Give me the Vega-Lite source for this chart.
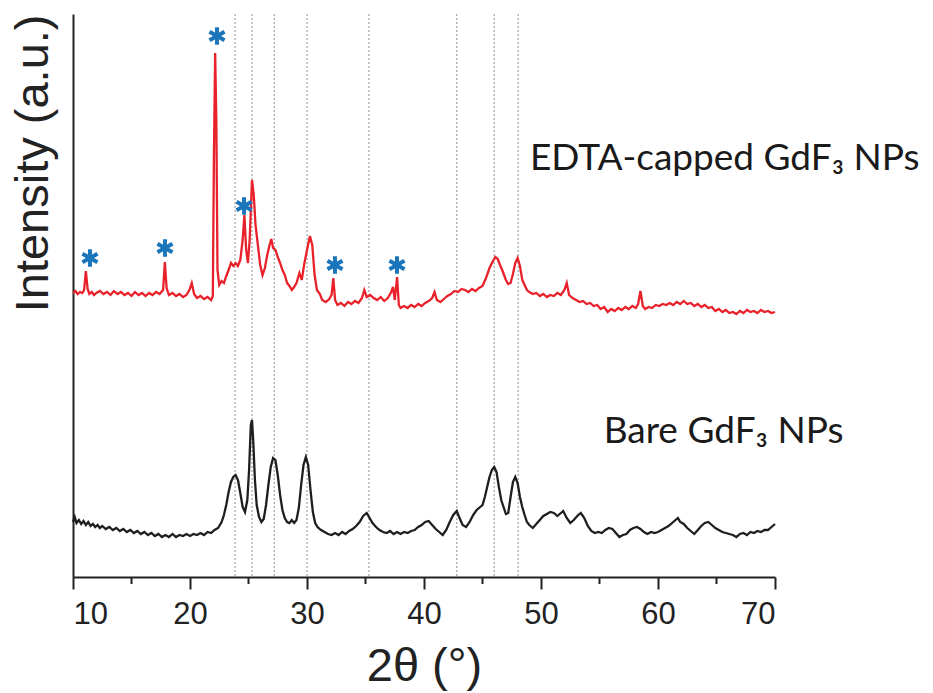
{
  "$schema": "https://vega.github.io/schema/vega-lite/v6.json",
  "width": 702,
  "height": 563,
  "autosize": "none",
  "padding": {"left": 73, "top": 14, "right": 158, "bottom": 116},
  "background": "white",
  "config": {"view": {"stroke": null}},
  "datasets": {
    "edta": [
      {"t":10.0,"i":284},{"t":10.2,"i":286},{"t":10.4,"i":283},{"t":10.6,"i":285},{"t":10.8,"i":284},{"t":10.95,"i":287},{"t":11.1,"i":306},{"t":11.25,"i":288},{"t":11.4,"i":283},{"t":11.6,"i":285},{"t":11.8,"i":282},{"t":12.0,"i":284},{"t":12.3,"i":286},{"t":12.6,"i":283},{"t":12.9,"i":285},{"t":13.2,"i":282},{"t":13.5,"i":286},{"t":13.8,"i":283},{"t":14.1,"i":285},{"t":14.4,"i":282},{"t":14.7,"i":284},{"t":15.0,"i":281},{"t":15.3,"i":285},{"t":15.6,"i":282},{"t":15.9,"i":284},{"t":16.2,"i":281},{"t":16.5,"i":284},{"t":16.8,"i":282},{"t":17.1,"i":285},{"t":17.4,"i":283},{"t":17.7,"i":287},{"t":17.85,"i":315},{"t":18.0,"i":289},{"t":18.2,"i":282},{"t":18.5,"i":284},{"t":18.8,"i":281},{"t":19.1,"i":283},{"t":19.4,"i":280},{"t":19.7,"i":282},{"t":19.95,"i":287},{"t":20.15,"i":294},{"t":20.35,"i":283},{"t":20.6,"i":279},{"t":20.9,"i":281},{"t":21.2,"i":278},{"t":21.5,"i":280},{"t":21.8,"i":277},{"t":21.95,"i":281},{"t":22.05,"i":427},{"t":22.15,"i":524},{"t":22.25,"i":457},{"t":22.35,"i":307},{"t":22.5,"i":292},{"t":22.7,"i":296},{"t":22.9,"i":294},{"t":23.1,"i":301},{"t":23.3,"i":307},{"t":23.5,"i":314},{"t":23.7,"i":311},{"t":23.9,"i":314},{"t":24.1,"i":311},{"t":24.3,"i":317},{"t":24.5,"i":337},{"t":24.65,"i":362},{"t":24.8,"i":327},{"t":24.95,"i":314},{"t":25.1,"i":337},{"t":25.3,"i":397},{"t":25.45,"i":382},{"t":25.6,"i":352},{"t":25.8,"i":332},{"t":26.0,"i":312},{"t":26.2,"i":302},{"t":26.4,"i":309},{"t":26.6,"i":322},{"t":26.8,"i":332},{"t":26.95,"i":338},{"t":27.1,"i":329},{"t":27.3,"i":327},{"t":27.5,"i":320},{"t":27.7,"i":314},{"t":27.9,"i":307},{"t":28.1,"i":302},{"t":28.3,"i":294},{"t":28.5,"i":291},{"t":28.7,"i":287},{"t":28.9,"i":290},{"t":29.1,"i":294},{"t":29.35,"i":304},{"t":29.55,"i":297},{"t":29.75,"i":312},{"t":30.0,"i":327},{"t":30.25,"i":341},{"t":30.45,"i":332},{"t":30.65,"i":302},{"t":30.85,"i":287},{"t":31.1,"i":283},{"t":31.3,"i":277},{"t":31.6,"i":275},{"t":31.9,"i":278},{"t":32.1,"i":282},{"t":32.25,"i":299},{"t":32.4,"i":277},{"t":32.6,"i":272},{"t":32.9,"i":274},{"t":33.2,"i":271},{"t":33.5,"i":275},{"t":33.8,"i":273},{"t":34.1,"i":276},{"t":34.4,"i":274},{"t":34.7,"i":279},{"t":34.9,"i":287},{"t":35.1,"i":280},{"t":35.4,"i":282},{"t":35.7,"i":279},{"t":36.0,"i":277},{"t":36.3,"i":280},{"t":36.6,"i":276},{"t":36.9,"i":279},{"t":37.2,"i":285},{"t":37.35,"i":290},{"t":37.5,"i":277},{"t":37.7,"i":300},{"t":37.85,"i":272},{"t":38.0,"i":269},{"t":38.3,"i":271},{"t":38.6,"i":269},{"t":38.9,"i":272},{"t":39.2,"i":270},{"t":39.5,"i":273},{"t":39.8,"i":271},{"t":40.1,"i":274},{"t":40.4,"i":276},{"t":40.7,"i":279},{"t":40.9,"i":285},{"t":41.1,"i":277},{"t":41.4,"i":275},{"t":41.7,"i":278},{"t":42.0,"i":281},{"t":42.3,"i":283},{"t":42.6,"i":286},{"t":42.9,"i":285},{"t":43.2,"i":288},{"t":43.5,"i":287},{"t":43.8,"i":285},{"t":44.1,"i":288},{"t":44.4,"i":286},{"t":44.7,"i":289},{"t":45.0,"i":291},{"t":45.3,"i":299},{"t":45.6,"i":309},{"t":45.85,"i":315},{"t":46.1,"i":320},{"t":46.3,"i":318},{"t":46.5,"i":312},{"t":46.75,"i":305},{"t":47.0,"i":297},{"t":47.2,"i":293},{"t":47.4,"i":294},{"t":47.6,"i":303},{"t":47.8,"i":314},{"t":48.0,"i":319},{"t":48.2,"i":311},{"t":48.4,"i":297},{"t":48.6,"i":292},{"t":48.8,"i":287},{"t":49.0,"i":285},{"t":49.3,"i":283},{"t":49.6,"i":284},{"t":49.9,"i":281},{"t":50.2,"i":283},{"t":50.5,"i":280},{"t":50.8,"i":282},{"t":51.1,"i":281},{"t":51.4,"i":284},{"t":51.7,"i":282},{"t":52.0,"i":287},{"t":52.2,"i":294},{"t":52.4,"i":282},{"t":52.7,"i":279},{"t":53.0,"i":277},{"t":53.3,"i":275},{"t":53.6,"i":276},{"t":53.9,"i":273},{"t":54.2,"i":274},{"t":54.5,"i":271},{"t":54.8,"i":272},{"t":55.1,"i":268},{"t":55.4,"i":270},{"t":55.7,"i":265},{"t":56.0,"i":268},{"t":56.3,"i":266},{"t":56.6,"i":269},{"t":56.9,"i":267},{"t":57.2,"i":270},{"t":57.5,"i":268},{"t":57.8,"i":271},{"t":58.1,"i":269},{"t":58.3,"i":273},{"t":58.5,"i":286},{"t":58.7,"i":271},{"t":58.9,"i":268},{"t":59.2,"i":270},{"t":59.5,"i":269},{"t":59.8,"i":272},{"t":60.1,"i":271},{"t":60.4,"i":273},{"t":60.7,"i":272},{"t":61.0,"i":274},{"t":61.3,"i":272},{"t":61.6,"i":275},{"t":61.9,"i":273},{"t":62.2,"i":276},{"t":62.5,"i":273},{"t":62.8,"i":274},{"t":63.1,"i":271},{"t":63.4,"i":273},{"t":63.7,"i":270},{"t":64.0,"i":272},{"t":64.3,"i":269},{"t":64.6,"i":270},{"t":64.9,"i":266},{"t":65.2,"i":268},{"t":65.5,"i":265},{"t":65.8,"i":267},{"t":66.1,"i":264},{"t":66.4,"i":265},{"t":66.7,"i":263},{"t":67.0,"i":266},{"t":67.3,"i":264},{"t":67.6,"i":267},{"t":67.9,"i":265},{"t":68.2,"i":266},{"t":68.5,"i":264},{"t":68.8,"i":267},{"t":69.1,"i":265},{"t":69.4,"i":266},{"t":69.7,"i":264},{"t":70.0,"i":265}
    ],
    "bare": [
      {"t":10.0,"i":55},{"t":10.15,"i":60},{"t":10.3,"i":54},{"t":10.5,"i":57},{"t":10.7,"i":53},{"t":10.9,"i":56},{"t":11.1,"i":52},{"t":11.3,"i":55},{"t":11.5,"i":51},{"t":11.7,"i":53},{"t":11.9,"i":50},{"t":12.1,"i":52},{"t":12.3,"i":49},{"t":12.5,"i":51},{"t":12.8,"i":48},{"t":13.1,"i":50},{"t":13.4,"i":47},{"t":13.7,"i":49},{"t":14.0,"i":46},{"t":14.3,"i":48},{"t":14.6,"i":45},{"t":14.9,"i":47},{"t":15.2,"i":44},{"t":15.5,"i":46},{"t":15.8,"i":43},{"t":16.1,"i":45},{"t":16.4,"i":42},{"t":16.7,"i":44},{"t":17.0,"i":41},{"t":17.3,"i":43},{"t":17.6,"i":40},{"t":17.9,"i":42},{"t":18.2,"i":40},{"t":18.5,"i":43},{"t":18.8,"i":40},{"t":19.1,"i":42},{"t":19.4,"i":41},{"t":19.7,"i":43},{"t":20.0,"i":41},{"t":20.3,"i":43},{"t":20.6,"i":42},{"t":20.9,"i":44},{"t":21.2,"i":42},{"t":21.5,"i":45},{"t":21.8,"i":44},{"t":22.1,"i":47},{"t":22.4,"i":49},{"t":22.7,"i":55},{"t":22.9,"i":62},{"t":23.1,"i":72},{"t":23.3,"i":85},{"t":23.5,"i":95},{"t":23.7,"i":100},{"t":23.9,"i":102},{"t":24.1,"i":97},{"t":24.3,"i":84},{"t":24.5,"i":70},{"t":24.7,"i":65},{"t":24.9,"i":77},{"t":25.05,"i":107},{"t":25.2,"i":152},{"t":25.3,"i":157},{"t":25.4,"i":137},{"t":25.55,"i":97},{"t":25.7,"i":72},{"t":25.9,"i":60},{"t":26.1,"i":55},{"t":26.3,"i":58},{"t":26.5,"i":72},{"t":26.7,"i":92},{"t":26.9,"i":110},{"t":27.1,"i":119},{"t":27.3,"i":117},{"t":27.5,"i":102},{"t":27.7,"i":82},{"t":27.9,"i":67},{"t":28.1,"i":59},{"t":28.3,"i":55},{"t":28.5,"i":54},{"t":28.7,"i":57},{"t":28.9,"i":54},{"t":29.1,"i":57},{"t":29.3,"i":69},{"t":29.5,"i":92},{"t":29.7,"i":112},{"t":29.9,"i":120},{"t":30.1,"i":112},{"t":30.3,"i":87},{"t":30.5,"i":65},{"t":30.7,"i":54},{"t":30.9,"i":50},{"t":31.2,"i":47},{"t":31.5,"i":45},{"t":31.8,"i":43},{"t":32.1,"i":42},{"t":32.4,"i":44},{"t":32.7,"i":42},{"t":33.0,"i":45},{"t":33.3,"i":43},{"t":33.6,"i":46},{"t":33.9,"i":48},{"t":34.2,"i":51},{"t":34.5,"i":55},{"t":34.8,"i":61},{"t":35.1,"i":64},{"t":35.3,"i":60},{"t":35.6,"i":54},{"t":35.9,"i":50},{"t":36.2,"i":47},{"t":36.5,"i":45},{"t":36.8,"i":44},{"t":37.1,"i":46},{"t":37.4,"i":43},{"t":37.7,"i":45},{"t":38.0,"i":43},{"t":38.3,"i":45},{"t":38.6,"i":44},{"t":38.9,"i":46},{"t":39.2,"i":47},{"t":39.5,"i":50},{"t":39.8,"i":52},{"t":40.1,"i":55},{"t":40.4,"i":56},{"t":40.7,"i":52},{"t":41.0,"i":48},{"t":41.3,"i":45},{"t":41.6,"i":42},{"t":41.9,"i":47},{"t":42.2,"i":55},{"t":42.5,"i":62},{"t":42.8,"i":66},{"t":43.0,"i":60},{"t":43.3,"i":52},{"t":43.6,"i":50},{"t":43.9,"i":55},{"t":44.2,"i":62},{"t":44.5,"i":67},{"t":44.8,"i":70},{"t":45.0,"i":72},{"t":45.2,"i":80},{"t":45.4,"i":90},{"t":45.6,"i":100},{"t":45.8,"i":107},{"t":46.0,"i":110},{"t":46.2,"i":105},{"t":46.4,"i":90},{"t":46.6,"i":77},{"t":46.8,"i":70},{"t":47.0,"i":63},{"t":47.2,"i":64},{"t":47.4,"i":80},{"t":47.6,"i":95},{"t":47.8,"i":100},{"t":48.0,"i":94},{"t":48.2,"i":80},{"t":48.4,"i":70},{"t":48.6,"i":62},{"t":48.8,"i":55},{"t":49.0,"i":52},{"t":49.3,"i":49},{"t":49.6,"i":53},{"t":49.9,"i":57},{"t":50.2,"i":61},{"t":50.5,"i":63},{"t":50.8,"i":65},{"t":51.1,"i":64},{"t":51.4,"i":61},{"t":51.7,"i":64},{"t":51.9,"i":66},{"t":52.2,"i":59},{"t":52.5,"i":54},{"t":52.8,"i":57},{"t":53.1,"i":61},{"t":53.4,"i":64},{"t":53.7,"i":59},{"t":54.0,"i":51},{"t":54.3,"i":46},{"t":54.6,"i":44},{"t":54.9,"i":45},{"t":55.2,"i":44},{"t":55.5,"i":47},{"t":55.8,"i":49},{"t":56.1,"i":48},{"t":56.4,"i":44},{"t":56.7,"i":40},{"t":57.0,"i":42},{"t":57.3,"i":43},{"t":57.6,"i":47},{"t":57.9,"i":49},{"t":58.2,"i":50},{"t":58.5,"i":48},{"t":58.8,"i":45},{"t":59.1,"i":43},{"t":59.4,"i":45},{"t":59.7,"i":44},{"t":60.0,"i":45},{"t":60.3,"i":47},{"t":60.6,"i":49},{"t":60.9,"i":51},{"t":61.2,"i":54},{"t":61.5,"i":57},{"t":61.7,"i":59},{"t":61.9,"i":55},{"t":62.2,"i":53},{"t":62.5,"i":49},{"t":62.8,"i":46},{"t":63.1,"i":43},{"t":63.4,"i":47},{"t":63.7,"i":51},{"t":64.0,"i":54},{"t":64.3,"i":55},{"t":64.6,"i":52},{"t":64.9,"i":49},{"t":65.2,"i":47},{"t":65.5,"i":45},{"t":65.8,"i":44},{"t":66.1,"i":43},{"t":66.4,"i":42},{"t":66.7,"i":40},{"t":67.0,"i":43},{"t":67.3,"i":44},{"t":67.6,"i":42},{"t":67.9,"i":45},{"t":68.2,"i":44},{"t":68.5,"i":46},{"t":68.8,"i":45},{"t":69.1,"i":47},{"t":69.4,"i":47},{"t":69.7,"i":50},{"t":70.0,"i":53}
    ],
    "refs": [{"t":23.85},{"t":25.3},{"t":27.2},{"t":30.0},{"t":35.3},{"t":42.8},{"t":46.0},{"t":48.05}],
    "stars": [{"t":11.45,"i":319},{"t":17.86,"i":329},{"t":22.31,"i":541},{"t":24.62,"i":371},{"t":32.39,"i":312},{"t":37.69,"i":312}],
    "labels": [{"t":65.7,"i":407,"txt":"EDTA-capped GdF₃ NPs"},{"t":65.6,"i":134,"txt":"Bare GdF₃ NPs"}],
    "minor": [{"t":15},{"t":25},{"t":35},{"t":45},{"t":55},{"t":65}]
  },
  "layer": [
    {
      "data": {"name": "refs"},
      "mark": {"type": "rule", "color": "#a0a0a0", "strokeDash": [2, 2], "strokeWidth": 1.2},
      "encoding": {
        "x": {
          "field": "t", "type": "quantitative",
          "scale": {"domain": [10, 70], "nice": false, "zero": false},
          "axis": {
            "values": [10, 20, 30, 40, 50, 60, 70],
            "grid": false,
            "domainColor": "#222", "domainWidth": 2,
            "tickColor": "#222", "tickWidth": 2, "tickSize": 12,
            "labelFont": "Liberation Sans", "labelFontSize": 31, "labelColor": "#222", "labelPadding": 10,
            "title": "2θ (°)", "titleFont": "Liberation Sans", "titleFontSize": 47,
            "titleFontWeight": "normal", "titleColor": "#222", "titlePadding": 14
          }
        }
      }
    },
    {
      "data": {"name": "edta"},
      "mark": {"type": "line", "color": "#e8212b", "strokeWidth": 2.3},
      "encoding": {
        "x": {"field": "t", "type": "quantitative"},
        "y": {
          "field": "i", "type": "quantitative",
          "scale": {"domain": [0, 563], "nice": false, "zero": false},
          "axis": {
            "ticks": false, "labels": false, "grid": false,
            "domainColor": "#222", "domainWidth": 2,
            "title": "Intensity (a.u.)", "titleFont": "Liberation Sans", "titleFontSize": 47,
            "titleFontWeight": "normal", "titleColor": "#222", "titleAnchor": "end", "titlePadding": 16
          }
        }
      }
    },
    {
      "data": {"name": "bare"},
      "mark": {"type": "line", "color": "#1e1e1e", "strokeWidth": 2.3},
      "encoding": {
        "x": {"field": "t", "type": "quantitative"},
        "y": {"field": "i", "type": "quantitative"}
      }
    },
    {
      "data": {"name": "stars"},
      "mark": {
        "type": "point",
        "shape": "M0,-1L0,1M-0.87,-0.5L0.87,0.5M-0.87,0.5L0.87,-0.5",
        "filled": false, "color": "#1b75bb", "strokeWidth": 4, "size": 300, "opacity": 1
      },
      "encoding": {
        "x": {"field": "t", "type": "quantitative"},
        "y": {"field": "i", "type": "quantitative"}
      }
    },
    {
      "data": {"name": "minor"},
      "mark": {"type": "rule", "color": "#222", "strokeWidth": 2, "clip": false},
      "encoding": {
        "x": {"field": "t", "type": "quantitative"},
        "y": {"datum": 0},
        "y2": {"datum": -7}
      }
    },
    {
      "mark": {"type": "rule", "color": "#222", "strokeWidth": 2},
      "encoding": {"y": {"datum": 563}}
    },
    {
      "mark": {"type": "rule", "color": "#222", "strokeWidth": 2},
      "encoding": {"x": {"datum": 70}, "y": {"datum": 563}, "y2": {"datum": 452}}
    },
    {
      "mark": {"type": "rule", "color": "#222", "strokeWidth": 2},
      "encoding": {"x": {"datum": 70}, "y": {"datum": 390}, "y2": {"datum": 179}}
    },
    {
      "mark": {"type": "rule", "color": "#222", "strokeWidth": 2},
      "encoding": {"x": {"datum": 70}, "y": {"datum": 115}, "y2": {"datum": 0}}
    },
    {
      "data": {"name": "labels"},
      "mark": {"type": "text", "font": "Lato", "fontSize": 37, "color": "#1a1a1a", "align": "center", "baseline": "alphabetic"},
      "encoding": {
        "x": {"field": "t", "type": "quantitative"},
        "y": {"field": "i", "type": "quantitative"},
        "text": {"field": "txt"}
      }
    }
  ]
}
